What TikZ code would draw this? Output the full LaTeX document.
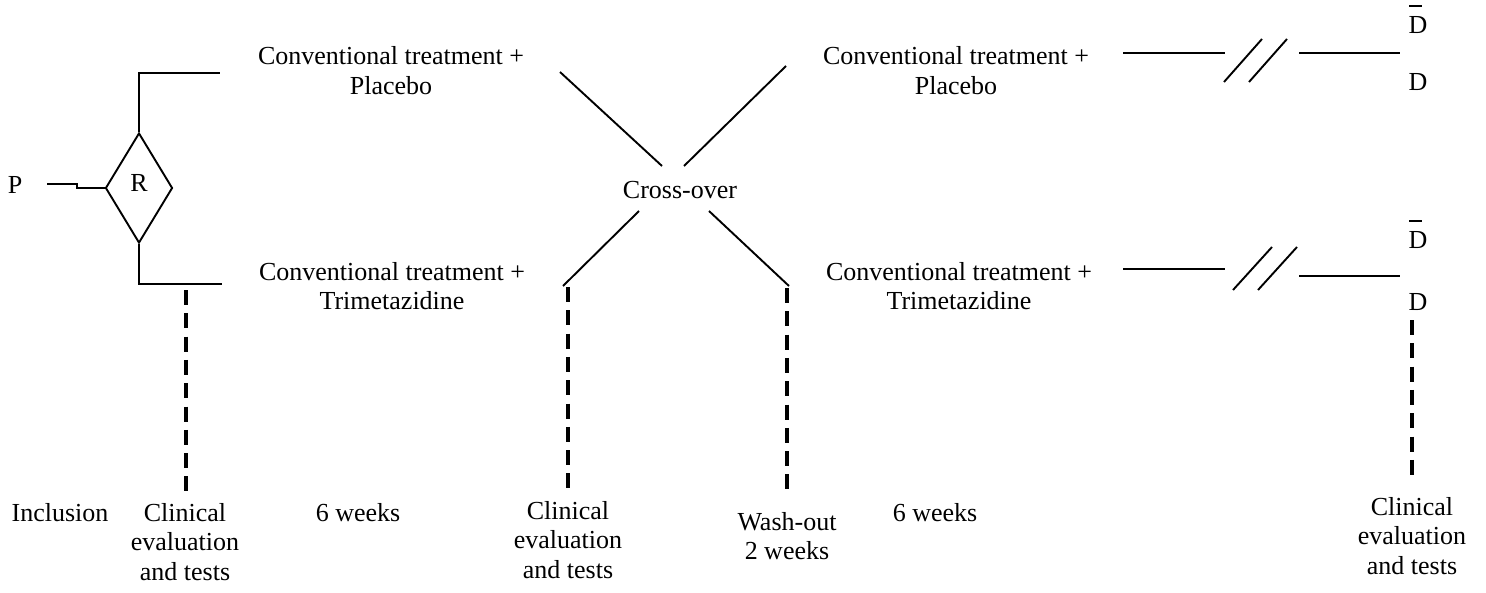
\documentclass[tikz,border=0pt]{standalone}
\usepackage{fontspec}
\setmainfont{Liberation Serif}
\usetikzlibrary{shapes.geometric}
\newcommand\Dbarsym{\makebox[0pt][l]{\hspace{0.7pt}\smash{\rule[26.5pt]{12.5pt}{1.5pt}}}D}
\begin{document}
\begin{tikzpicture}[x=1pt,y=-1pt,
  txt/.style={inner sep=0pt, font=\fontsize{26}{29.5}\selectfont, align=center},
  ln/.style={line width=1.9pt},
  dl/.style={line width=3.3pt, dash pattern=on 15pt off 8.3pt},
  ]
\useasboundingbox (0,0) rectangle (1486,592);

% left part
\node[txt] (P) at (15,185) {P};
\node[txt, diamond, draw, ln, minimum width=67pt, minimum height=110pt, text depth=10pt] (R) at (139,188) {R};
\coordinate (p0) at (47,184);
\draw[ln] (p0) -- ++(30,0) |- (R.west);
\coordinate (t1) at (220,73);
\coordinate (b1) at (222,284);
\draw[ln] (R.north) |- (t1);
\draw[ln] (R.south) |- (b1);

% treatment texts
\node[txt] (ct1) at (391,70.5) {Conventional treatment +\\Placebo};
\node[txt] (ct2) at (392,286) {Conventional treatment +\\Trimetazidine};
\node[txt] (ct3) at (956,70.5) {Conventional treatment +\\Placebo};
\node[txt] (ct4) at (959,286) {Conventional treatment +\\Trimetazidine};

% cross-over
\node[txt] (co) at (680,190) {Cross-over};
\coordinate (x1a) at (560,72);  \coordinate (x1b) at (662,166);
\coordinate (x2a) at (786,66);  \coordinate (x2b) at (684,166);
\coordinate (x3a) at (639,211); \coordinate (x3b) at (563,286);
\coordinate (x4a) at (709,211); \coordinate (x4b) at (789,286);
\draw[ln] (x1a) -- (x1b);
\draw[ln] (x2a) -- (x2b);
\draw[ln] (x3a) -- (x3b);
\draw[ln] (x4a) -- (x4b);

% right part: follow-up lines with breaks
\coordinate (u1) at (1123,53); \coordinate (u2) at (1225,53);
\coordinate (u3) at (1299,53); \coordinate (u4) at (1400,53);
\coordinate (us1a) at (1224,82); \coordinate (us1b) at (1262,39);
\coordinate (us2a) at (1249,82); \coordinate (us2b) at (1287,39);
\draw[ln] (u1) -- (u2);
\draw[ln] (us1a) -- (us1b);
\draw[ln] (us2a) -- (us2b);
\draw[ln] (u3) -- (u4);

\coordinate (l1) at (1123,269); \coordinate (l2) at (1225,269);
\coordinate (l3) at (1299,276); \coordinate (l4) at (1400,276);
\coordinate (ls1a) at (1233,290); \coordinate (ls1b) at (1272,247);
\coordinate (ls2a) at (1258,290); \coordinate (ls2b) at (1297,247);
\draw[ln] (l1) -- (l2);
\draw[ln] (ls1a) -- (ls1b);
\draw[ln] (ls2a) -- (ls2b);
\draw[ln] (l3) -- (l4);

\node[txt] (db1) at (1418,25) {\Dbarsym};
\node[txt] (d1) at (1418,82) {D};
\node[txt] (db2) at (1418,240) {\Dbarsym};
\node[txt] (d2) at (1418,302) {D};

% dashed time markers
\coordinate (m1a) at (186,290);  \coordinate (m1b) at (186,496);
\coordinate (m2a) at (568,287);  \coordinate (m2b) at (568,494);
\coordinate (m3a) at (787,288);  \coordinate (m3b) at (787,497);
\coordinate (m4a) at (1412,320); \coordinate (m4b) at (1412,481);
\draw[dl] (m1a) -- (m1b);
\draw[dl] (m2a) -- (m2b);
\draw[dl] (m3a) -- (m3b);
\draw[dl] (m4a) -- (m4b);

% bottom labels
\node[txt] (inc) at (60,513) {Inclusion};
\node[txt] (ce1) at (185,542) {Clinical\\evaluation\\and tests};
\node[txt] (w1) at (358,513) {6 weeks};
\node[txt] (ce2) at (568,540) {Clinical\\evaluation\\and tests};
\node[txt] (wo) at (787,536) {Wash-out\\2 weeks};
\node[txt] (w2) at (935,513) {6 weeks};
\node[txt] (ce3) at (1412,536) {Clinical\\evaluation\\and tests};
\end{tikzpicture}
\end{document}
